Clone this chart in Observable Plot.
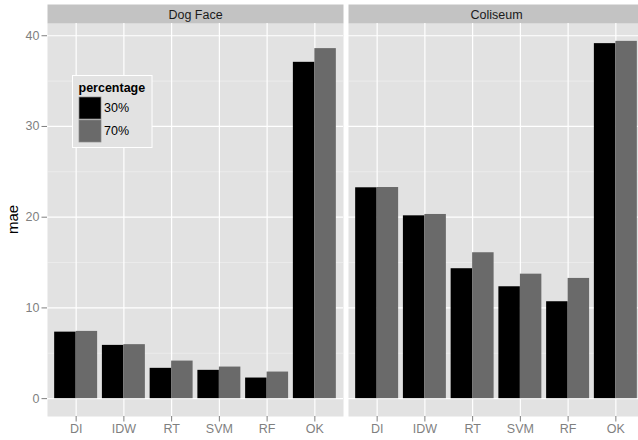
<!DOCTYPE html>
<html>
<head>
<meta charset="utf-8">
<script src="https://cdn.jsdelivr.net/npm/d3@7"></script>
<script src="https://cdn.jsdelivr.net/npm/@observablehq/plot@0.6"></script>
<style>
  html, body { margin: 0; padding: 0; background: #fff; }
  #chart { width: 638px; height: 440px; overflow: hidden; }
</style>
</head>
<body>
<div id="chart"></div>
<script>
const sites = ["Dog Face", "Coliseum"];
const methods = ["DI", "IDW", "RT", "SVM", "RF", "OK"];
const percentages = ["30%", "70%"];
const dogFace30 = [7.33, 5.87, 3.34, 3.12, 2.27, 37.07];
const dogFace70 = [7.41, 5.95, 4.14, 3.48, 2.93, 38.58];
const coliseum30 = [23.24, 20.15, 14.32, 12.33, 10.68, 39.13];
const coliseum70 = [23.27, 20.30, 16.08, 13.72, 13.25, 39.38];
const yTicks = [0, 10, 20, 30, 40];
const yMinor = [5, 15, 25, 35];
const barColors = ["#000000", "#6a6a6a"];

const series = [
  {site: "Dog Face", pct: "30%", values: dogFace30},
  {site: "Dog Face", pct: "70%", values: dogFace70},
  {site: "Coliseum", pct: "30%", values: coliseum30},
  {site: "Coliseum", pct: "70%", values: coliseum70}
];
const data = series.flatMap(s => s.values.map((v, i) => ({site: s.site, method: methods[i], idx: i, pct: s.pct, mae: v})));

const dodge = 0.9;
const half = dodge / 2;
const ymax = d3.max(data, d => d.mae);
const pad = ymax * 0.05;

const font = "'Liberation Sans', Arial, Helvetica, sans-serif";
const W = 638, H = 440;
const mTop = 23, mBottom = 24, mLeft = 46.3, mRight = -6.7;

const chart = Plot.plot({
  width: W,
  height: H,
  marginTop: mTop,
  marginBottom: mBottom,
  marginLeft: mLeft,
  marginRight: mRight,
  style: {fontFamily: font, fontSize: "12.5px", background: "white", overflow: "hidden"},
  fx: {domain: sites, paddingInner: 0.018, paddingOuter: 0, label: null},
  x: {domain: [-0.6, methods.length - 1 + 0.6], label: null},
  y: {domain: [-pad, ymax + pad], label: null},
  color: {domain: percentages, range: barColors},
  marks: [
    Plot.frame({fill: "#e2e2e2"}),
    Plot.frame({fill: "#c3c3c3", insetTop: -19, insetBottom: H - mTop - mBottom}),
    Plot.gridY({ticks: yMinor, stroke: "#f1f1f1", strokeOpacity: 1, strokeWidth: 0.6}),
    Plot.gridY({ticks: yTicks, stroke: "#ffffff", strokeOpacity: 1, strokeWidth: 1.2}),
    Plot.gridX({ticks: d3.range(methods.length), stroke: "#ffffff", strokeOpacity: 1, strokeWidth: 1.2}),
    Plot.rectY(data, {
      fx: "site",
      x1: d => d.idx - half + (d.pct === percentages[0] ? 0 : half),
      x2: d => d.idx + (d.pct === percentages[0] ? 0 : half),
      y: "mae",
      fill: "pct"
    }),
    Plot.axisFx({anchor: "top", label: null, tickSize: 0, tickPadding: 5, fill: "#1a1a1a"}),
    Plot.axisY({ticks: yTicks, tickSize: 5.5, tickPadding: 2.5, color: "#7f7f7f", label: null}),
    Plot.axisX({ticks: d3.range(methods.length), tickFormat: i => methods[i], tickSize: 5.5, tickPadding: 2.5, color: "#7f7f7f", label: null})
  ]
});

document.getElementById("chart").appendChild(chart);

// y-axis title
const svg = d3.select(chart);
svg.append("text")
  .attr("transform", `translate(17.5,${(mTop + H - mBottom) / 2}) rotate(-90)`)
  .attr("text-anchor", "middle")
  .attr("font-family", font)
  .attr("font-size", 15)
  .attr("fill", "#000")
  .text("mae");

// legend (inside left panel)
const lg = svg.append("g").attr("font-family", font).attr("text-anchor", "start");
lg.append("rect").attr("x", 72.5).attr("y", 75.5).attr("width", 79.5).attr("height", 72)
  .attr("fill", "#e2e2e2").attr("stroke", "#ffffff").attr("stroke-width", 1);
lg.append("text").attr("x", 78.5).attr("y", 91.5).attr("font-size", 12.5).attr("font-weight", "bold")
  .attr("fill", "#000").text("percentage");
percentages.forEach((p, i) => {
  lg.append("rect").attr("x", 79).attr("y", 97 + i * 23).attr("width", 22).attr("height", 22)
    .attr("fill", barColors[i]).attr("stroke", "#8a8a8a").attr("stroke-width", 0.7);
  lg.append("text").attr("x", 104).attr("y", 108 + i * 23).attr("dy", "0.35em")
    .attr("font-size", 12.5).attr("fill", "#000").text(p);
});
</script>
</body>
</html>
